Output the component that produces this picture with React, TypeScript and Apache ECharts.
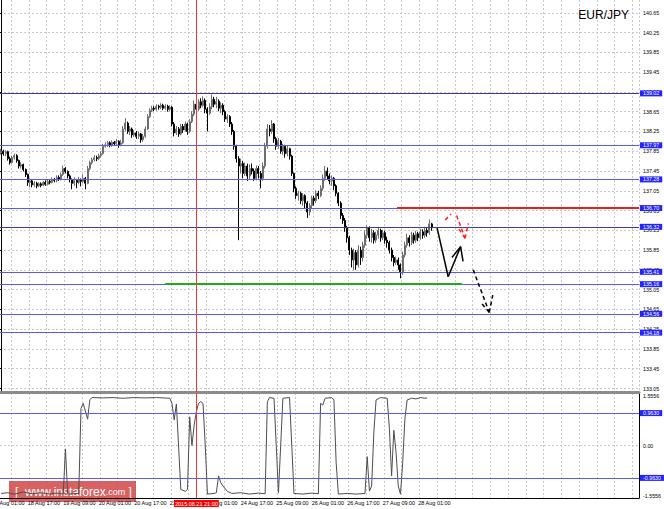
import React, { useEffect, useRef } from 'react';
import * as echarts from 'echarts';

const FONT = '"Liberation Sans", Arial, sans-serif';
const N = 288;
const RED_LINE_CAT = '21 Aug 21:00';
const RED_LINE_LABEL = '2015.08.21 21:00';
const LAST_LABEL_INDEX = 188;
const HIDDEN_FIRST_LABEL = '18 Aug 01:00';
const HIDDEN_FIRST_LABEL_POS = -4;

const priceTicks = ['133.05', '133.45', '133.85', '134.25', '134.65', '135.05', '135.45', '135.85', '136.25', '136.65',
  '137.05', '137.45', '137.85', '138.25', '138.65', '139.05', '139.45', '139.85', '140.25', '140.65'];

const levels = [139.02, 137.97, 137.28, 136.70, 136.32, 135.41, 135.16, 134.56, 134.18];
const darkLevels = [139.02, 136.32];
const indicatorLevels = [0.963, -0.963];

const FIRST_OPEN = 137.82;
const closes = [
  137.85, 137.80, 137.84, 137.70, 137.62, 137.72, 137.76, 137.66, 137.55, 137.58,
  137.48, 137.38, 137.22, 137.25, 137.17, 137.20, 137.15, 137.19, 137.16, 137.22,
  137.18, 137.24, 137.22, 137.28, 137.26, 137.32, 137.29, 137.38, 137.50, 137.44,
  137.35, 137.28, 137.20, 137.26, 137.22, 137.27, 137.24, 137.30, 137.20, 137.50,
  137.62, 137.68, 137.72, 137.70, 137.76, 137.80, 137.95, 137.98, 138.02, 137.97,
  138.03, 138.00, 138.05, 137.98, 138.02, 138.30, 138.42, 138.25, 138.30, 138.18,
  138.22, 138.15, 138.20, 138.08, 138.15, 138.30, 138.55, 138.68, 138.72, 138.70,
  138.76, 138.74, 138.78, 138.72, 138.76, 138.70, 138.74, 138.40, 138.22, 138.30,
  138.20, 138.35, 138.28, 138.40, 138.25, 138.45, 138.60, 138.80, 138.70, 138.85,
  138.78, 138.88, 138.70, 138.62, 138.75, 138.90, 138.80, 138.86, 138.72, 138.78,
  138.65, 138.50, 138.55, 138.40, 138.25, 137.95, 137.70, 137.55, 137.60, 137.40,
  137.55, 137.35, 137.50, 137.45, 137.30, 137.50, 137.40, 137.30, 137.55, 137.95,
  138.30, 138.25, 138.40, 138.10, 137.95, 138.05, 137.85, 137.95, 137.80, 137.90,
  137.75, 137.40, 137.10, 136.95, 137.00, 136.85, 136.95, 136.80, 136.62, 136.75,
  136.90, 136.85, 137.00, 136.95, 137.10, 137.30, 137.45, 137.35, 137.25, 137.30,
  137.15, 137.00, 136.80, 136.55, 136.45, 136.30, 136.10, 135.85, 135.65, 135.80,
  135.55, 135.85, 135.70, 135.95, 136.15, 136.30, 136.10, 136.20, 136.05, 136.15,
  136.25, 136.10, 136.20, 136.05, 136.00, 135.85, 135.70, 135.60, 135.65, 135.55,
  135.40, 135.75, 135.95, 136.10, 136.00, 136.15, 136.05, 136.18, 136.10, 136.22,
  136.15, 136.25, 136.20, 136.38, 136.30,
];
const lows = [
  137.78, 137.76, 137.75, 137.66, 137.58, 137.60, 137.68, 137.62, 137.50, 137.50,
  137.44, 137.33, 137.15, 137.12, 137.12, 137.13, 137.10, 137.12, 137.12, 137.14,
  137.15, 137.16, 137.18, 137.20, 137.22, 137.22, 137.25, 137.26, 137.35, 137.40,
  137.30, 137.22, 137.08, 137.15, 137.10, 137.18, 137.14, 137.20, 137.08, 137.18,
  137.46, 137.58, 137.64, 137.65, 137.67, 137.72, 137.78, 137.92, 137.94, 137.93,
  137.94, 137.96, 137.97, 137.92, 137.95, 138.00, 138.26, 138.20, 138.18, 138.12,
  138.14, 138.10, 138.10, 138.02, 138.04, 138.12, 138.28, 138.52, 138.64, 138.66,
  138.67, 138.69, 138.70, 138.68, 138.69, 138.65, 138.66, 138.35, 138.15, 138.18,
  138.14, 138.17, 138.22, 138.25, 138.18, 138.22, 138.42, 138.56, 138.64, 138.66,
  138.72, 138.74, 138.62, 138.25, 138.58, 138.70, 138.74, 138.72, 138.66, 138.62,
  138.58, 138.44, 138.42, 138.34, 138.18, 137.88, 137.62, 136.05, 137.40, 137.30,
  137.35, 137.25, 137.28, 137.38, 137.25, 137.26, 137.30, 137.10, 137.25, 137.50,
  137.90, 138.15, 138.20, 138.02, 137.88, 137.90, 137.80, 137.78, 137.72, 137.75,
  137.68, 137.35, 137.02, 136.88, 136.85, 136.78, 136.75, 136.70, 136.50, 136.55,
  136.70, 136.75, 136.80, 136.88, 136.92, 137.05, 137.25, 137.28, 137.18, 137.15,
  137.06, 136.94, 136.74, 136.48, 136.38, 136.22, 136.00, 135.75, 135.50, 135.45,
  135.45, 135.50, 135.55, 135.62, 135.90, 136.08, 136.02, 136.00, 135.98, 136.00,
  136.08, 136.02, 136.05, 135.98, 135.90, 135.78, 135.62, 135.52, 135.55, 135.45,
  135.28, 135.35, 135.70, 135.90, 135.92, 135.95, 135.98, 136.00, 136.03, 136.06,
  136.08, 136.10, 136.12, 136.16, 136.24,
];
const highs = [
  137.90, 137.88, 137.87, 137.86, 137.74, 137.76, 137.80, 137.79, 137.68, 137.63,
  137.60, 137.50, 137.40, 137.30, 137.28, 137.24, 137.23, 137.22, 137.22, 137.25,
  137.26, 137.28, 137.28, 137.32, 137.31, 137.36, 137.36, 137.42, 137.56, 137.53,
  137.46, 137.38, 137.30, 137.32, 137.29, 137.33, 137.30, 137.38, 137.33, 137.55,
  137.66, 137.72, 137.77, 137.76, 137.80, 137.85, 138.00, 138.03, 138.06, 138.05,
  138.07, 138.06, 138.10, 138.07, 138.08, 138.36, 138.52, 138.45, 138.36, 138.33,
  138.28, 138.26, 138.25, 138.22, 138.20, 138.35, 138.60, 138.72, 138.77, 138.76,
  138.80, 138.79, 138.82, 138.81, 138.80, 138.79, 138.78, 138.76, 138.44, 138.36,
  138.34, 138.40, 138.40, 138.45, 138.43, 138.50, 138.66, 138.88, 138.84, 138.90,
  138.92, 138.96, 138.92, 138.74, 138.82, 139.00, 138.95, 138.95, 138.90, 138.84,
  138.82, 138.68, 138.60, 138.58, 138.44, 138.28, 137.98, 137.75, 137.70, 137.65,
  137.62, 137.60, 137.58, 137.60, 137.50, 137.56, 137.55, 137.45, 137.62, 138.02,
  138.40, 138.38, 138.48, 138.42, 138.14, 138.12, 138.08, 138.00, 137.98, 137.96,
  137.92, 137.78, 137.42, 137.14, 137.05, 137.03, 137.00, 136.98, 136.84, 136.80,
  136.95, 136.95, 137.06, 137.05, 137.16, 137.38, 137.55, 137.52, 137.40, 137.36,
  137.33, 137.18, 137.02, 136.84, 136.60, 136.50, 136.34, 136.14, 135.90, 135.88,
  135.85, 135.95, 135.92, 136.02, 136.25, 136.35, 136.33, 136.28, 136.25, 136.22,
  136.30, 136.28, 136.26, 136.24, 136.12, 136.04, 135.90, 135.75, 135.72, 135.70,
  135.58, 135.82, 136.02, 136.18, 136.15, 136.22, 136.20, 136.24, 136.22, 136.28,
  136.27, 136.32, 136.30, 136.47, 136.40,
];

// indicator vertices: [category index, value]
const indicatorPoints: [number, number][] = [
  [0, -1.42], [3, -1.40], [6, -1.44], [10, -1.38], [14, -1.43], [18, -1.40], [22, -1.44], [25, -1.41],
  [28, -1.44], [29, -0.10], [30, -1.44], [35, -1.42], [36, 1.10], [37, 1.25], [39, 0.78], [40, 1.36], [41, 1.42],
  [46, 1.41], [50, 1.42], [55, 1.40], [60, 1.42], [65, 1.41], [70, 1.42], [76, 1.40], [77, 1.25], [78, 0.76],
  [79, 1.23], [81, -1.30], [83, -1.36], [84, -1.30], [85, 0.85], [86, 0.00], [87, 0.60], [88, 1.00], [89, 1.25],
  [90, 1.30], [91, 1.25], [92, 0.00], [93, -1.44], [96, -1.42], [97, -1.40], [98, -0.90], [99, -1.10],
  [100, -1.20], [102, -1.36], [104, -1.42], [108, -1.40], [112, -1.44], [116, -1.41], [119, -1.43], [120, 1.30],
  [121, 1.42], [123, 1.40], [124, 0.00], [125, -1.40], [126, 0.00], [127, 1.40], [130, 1.42], [131, 0.00],
  [132, -1.42], [136, -1.44], [140, -1.41], [143, -1.43], [144, 1.25], [145, 1.20], [146, 1.40], [149, 1.42],
  [150, 1.35], [151, -0.50], [152, -1.44], [156, -1.42], [160, -1.44], [164, -1.42], [165, -0.33], [166, -1.35],
  [167, -1.20], [168, 0.40], [169, 1.35], [171, 1.42], [174, 1.40], [175, 0.50], [176, -0.90], [177, 0.45],
  [178, -0.20], [179, -1.20], [180, -1.44], [181, -0.50], [182, 0.80], [183, 1.35], [185, 1.40], [187, 1.38],
  [189, 1.42], [191, 1.40], [192, 1.41],
];

// hand-drawn annotations: [[bar position, price], [bar position, price]]
const blackSolidStrokes = [
  [[196.5, 136.30], [201.5, 135.31]],
  [[201.5, 135.31], [207.1, 135.92]],
  [[207.1, 135.92], [203.2, 135.70]],
  [[207.1, 135.92], [208.2, 135.62]],
];
const blackDashedStrokes = [
  [[212.8, 135.45], [220.0, 134.59]],
  [[220.0, 134.59], [216.6, 134.77]],
  [[220.0, 134.59], [221.6, 134.94]],
];
const redDashedStrokes = [
  [[200.1, 136.46], [202.8, 136.58]],
  [[205.3, 136.55], [209.1, 136.09]],
  [[209.1, 136.09], [206.1, 136.29]],
  [[209.1, 136.09], [210.6, 136.39]],
];
const redSegment = [[178.4, 136.70], [287.5, 136.70]];
const greenSegment = [[73.9, 135.16], [207.7, 135.16]];

const MONTHS = ['Jan', 'Feb', 'Mar', 'Apr', 'May', 'Jun', 'Jul', 'Aug', 'Sep', 'Oct', 'Nov', 'Dec'];
function buildCategories(): string[] {
  const out: string[] = [];
  let t = Date.UTC(2015, 7, 18, 5);
  while (out.length < N) {
    const d = new Date(t);
    const wd = d.getUTCDay();
    if (wd !== 0 && wd !== 6) {
      out.push(`${d.getUTCDate()} ${MONTHS[d.getUTCMonth()]} ${String(d.getUTCHours()).padStart(2, '0')}:00`);
    }
    t += 3600000;
  }
  return out;
}

export default function App() {
  const ref = useRef<HTMLDivElement>(null);
  useEffect(() => {
    if (!ref.current) return;
    const chart = echarts.init(ref.current, null, { renderer: 'svg' });
    const categories = buildCategories();
    const candleData = categories.map((_, j) => {
      if (j >= closes.length) return '-';
      const o = j === 0 ? FIRST_OPEN : closes[j - 1];
      return [o, closes[j], lows[j], highs[j]];
    });
    const grid = { color: '#c8c8c8', type: [2, 2] as any, width: 1 };
    const labelBox = {
      show: true, position: 'end', distance: 1, color: '#ffffff', backgroundColor: '#2323ff',
      padding: [1, 3, 0, 3], fontSize: 5.3, fontFamily: FONT,
    };
    const levelLines = levels.map((v) => ({
      yAxis: v,
      lineStyle: { color: darkLevels.includes(v) ? '#3d3d8f' : '#5a5af2', width: 1, type: 'solid' },
      label: { ...labelBox, formatter: v.toFixed(2) },
    }));
    const strokeItems = [
      ...blackSolidStrokes.map((c) => ({ coords: c, lineStyle: { color: '#000', width: 1.5, type: 'solid', opacity: 1 } })),
      ...blackDashedStrokes.map((c) => ({ coords: c, lineStyle: { color: '#000', width: 1.5, type: [4, 3], opacity: 1 } })),
      ...redDashedStrokes.map((c) => ({ coords: c, lineStyle: { color: '#ff2020', width: 1.5, type: [4, 3], opacity: 1 } })),
      { coords: redSegment, lineStyle: { color: '#e62020', width: 2, type: 'solid', opacity: 1 } },
      { coords: greenSegment, lineStyle: { color: '#22a822', width: 2, type: 'solid', opacity: 1 } },
    ];
    const gridInterval = (i: number) => i % 8 === 5;

    chart.setOption({
      animation: false,
      title: {
        text: 'EUR/JPY', right: 35, top: 9, padding: 0,
        textStyle: { fontSize: 12, fontWeight: 'normal', color: '#000', fontFamily: FONT },
      },
      grid: [
        { left: 0, top: 0, width: 639, height: 392 },
        { left: 0, top: 12.8, width: 639, height: 375.7 },
        { left: 0, top: 393, width: 639, height: 105 },
      ],
      xAxis: [
        {
          gridIndex: 0, type: 'category', data: categories, boundaryGap: true,
          axisLine: { show: true, onZero: false, lineStyle: { color: '#8c8c8c', width: 3 } },
          axisTick: { show: false }, axisLabel: { show: false },
          splitLine: { show: true, interval: gridInterval, lineStyle: grid },
        },
        { gridIndex: 0, type: 'value', min: -0.5, max: N - 0.5, show: false },
        { gridIndex: 1, type: 'value', min: 0, max: 1, show: false },
        {
          gridIndex: 2, type: 'category', data: categories, boundaryGap: true,
          axisLine: { show: true, onZero: false, lineStyle: { color: '#000', width: 1 } },
          axisTick: { show: false },
          axisLabel: {
            show: true, interval: (i: number) => i % 16 === 12 && i <= LAST_LABEL_INDEX, align: 'left', margin: 2,
            fontSize: 5.5, color: '#000', fontFamily: FONT,
          },
          splitLine: { show: true, interval: gridInterval, lineStyle: grid },
        },
      ],
      yAxis: [
        {
          gridIndex: 0, type: 'value', min: 132.979, max: 140.909, position: 'right',
          axisLine: { show: true, lineStyle: { color: '#000', width: 1 } },
          axisTick: { show: false }, axisLabel: { show: false }, splitLine: { show: false },
        },
        {
          gridIndex: 1, type: 'category', data: priceTicks, boundaryGap: false, position: 'right',
          axisLine: { show: false },
          axisTick: { show: true, length: 2, interval: 0, lineStyle: { color: '#000' } },
          axisLabel: { interval: 0, fontSize: 5.3, color: '#000', margin: 4, fontFamily: FONT },
          splitLine: { show: true, interval: 0, lineStyle: grid },
        },
        {
          gridIndex: 2, type: 'value', min: -1.5556, max: 1.5556, interval: 1.5556, position: 'right',
          axisLine: { show: true, lineStyle: { color: '#000', width: 1 } },
          axisTick: { show: false },
          axisLabel: {
            fontSize: 5.3, color: '#000', margin: 4, fontFamily: FONT,
            formatter: (v: number) => (Math.abs(v) < 1e-9 ? '0.00' : v.toFixed(4)),
            verticalAlignMinLabel: 'bottom', verticalAlignMaxLabel: 'top',
          },
          splitLine: { show: true, lineStyle: grid },
        },
      ],
      series: [
        {
          type: 'candlestick', xAxisIndex: 0, yAxisIndex: 0, data: candleData, barWidth: 1.5,
          itemStyle: { color: '#ffffff', color0: '#000000', borderColor: '#6e6e6e', borderColor0: '#000000', borderWidth: 1 },
          silent: true,
          markLine: {
            silent: true, symbol: ['none', 'none'], animation: false,
            data: [
              ...levelLines,
              { xAxis: RED_LINE_CAT, lineStyle: { color: '#ff3030', width: 1, type: 'solid' }, label: { show: false } },
            ],
          },
        },
        {
          type: 'lines', coordinateSystem: 'cartesian2d', xAxisIndex: 1, yAxisIndex: 0,
          polyline: false, silent: true, z: 6, data: strokeItems,
          lineStyle: { opacity: 1 },
        },
        {
          type: 'line', xAxisIndex: 3, yAxisIndex: 2, data: indicatorPoints, showSymbol: false, symbol: 'none',
          silent: true, z: 4, lineStyle: { color: '#4d4d4d', width: 1 },
          markLine: {
            silent: true, symbol: ['none', 'none'], animation: false,
            data: [
              ...indicatorLevels.map((v) => ({
                yAxis: v,
                lineStyle: { color: '#5a5af2', width: 1, type: 'solid' },
                label: { ...labelBox, formatter: v.toFixed(4) },
              })),
              {
                xAxis: RED_LINE_CAT,
                lineStyle: { color: '#ff3030', width: 1, type: 'solid' },
                label: {
                  show: true, position: 'start', distance: 2, formatter: RED_LINE_LABEL,
                  color: '#ffffff', backgroundColor: '#ff0000', padding: [1, 1, 0, 1],
                  fontSize: 5.5, fontFamily: FONT,
                },
              },
            ],
          },
        },
      ],
    });

    const firstLabelX = chart.convertToPixel({ xAxisIndex: 1 }, HIDDEN_FIRST_LABEL_POS) as number;
    const axisBottomY = chart.convertToPixel({ yAxisIndex: 2 }, -1.5556) as number;
    chart.setOption({
      graphic: [
        {
          type: 'text', x: firstLabelX, y: axisBottomY + 2, z: 1,
          style: { text: HIDDEN_FIRST_LABEL, fill: '#000', font: `5.5px ${FONT}`, textAlign: 'left', textVerticalAlign: 'top' },
        },
        {
          type: 'group', left: 9, top: 481, z: 100,
          children: [
            { type: 'rect', shape: { x: 0, y: 0, width: 127, height: 21 }, style: { fill: 'rgba(208,62,62,0.82)' } },
            {
              type: 'text', x: 6, y: 11,
              style: {
                text: '{b|[}  {w|www.instaforex}{c|.com} {b|]}',
                fill: '#ffffff', font: `12px ${FONT}`, verticalAlign: 'middle',
                rich: {
                  b: { fontSize: 12, fill: '#ffffff', fontFamily: FONT },
                  w: { fontSize: 12, fill: '#ffffff', fontFamily: FONT },
                  c: { fontSize: 9, fill: '#ffffff', fontFamily: FONT },
                },
              },
            },
          ],
        },
      ],
    });
    return () => chart.dispose();
  }, []);
  return <div ref={ref} style={{ position: 'absolute', left: 0, top: 0, width: 664, height: 509 }} />;
}
